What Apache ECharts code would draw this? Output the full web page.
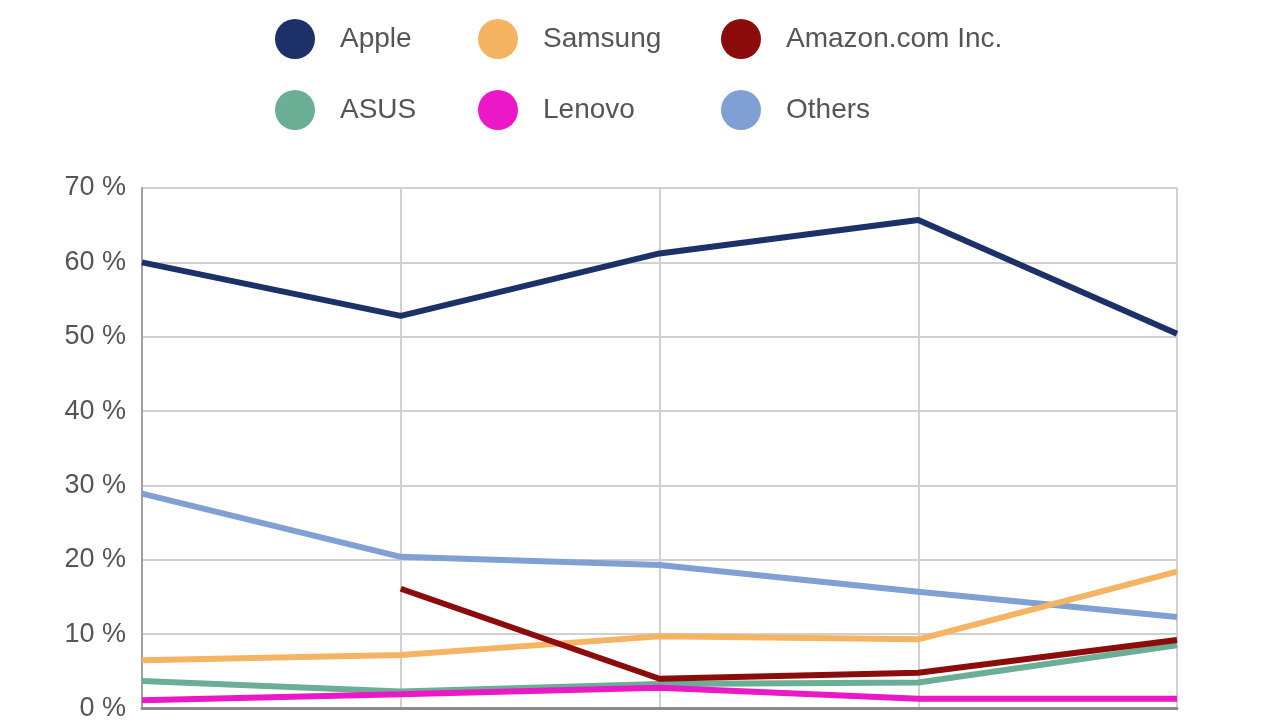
<!DOCTYPE html>
<html>
<head>
    <meta charset="utf-8">
    <title>tablet share</title>
    <script src="https://cdn.jsdelivr.net/npm/echarts@6/dist/echarts.min.js"></script>
    <style>
        html, body { margin: 0; padding: 0; background: #fff; overflow: hidden; }
        #main { width: 1280px; height: 722px; }
    </style>
</head>
<body>
<div id="main"></div>
<script>
    // x labels are cut off in the picture, so names are a guess and hidden
    var quarters = ['Q3 2011', 'Q4 2011', 'Q1 2012', 'Q2 2012', 'Q3 2012'];
    var yTicks = [0, 10, 20, 30, 40, 50, 60, 70];

    var apple   = [60.0, 52.8, 61.2, 65.7, 50.4];
    var samsung = [6.5, 7.2, 9.7, 9.3, 18.4];
    var amazon  = [null, 16.1, 4.0, 4.8, 9.2];
    var asus    = [3.7, 2.3, 3.3, 3.5, 8.5];
    var lenovo  = [1.1, 1.9, 2.8, 1.3, 1.3];
    var others  = [28.9, 20.4, 19.3, 15.7, 12.3];

    var colors = {
        Apple: '#1b3168',
        Samsung: '#f5b462',
        'Amazon.com Inc.': '#8c0c0c',
        ASUS: '#6aae96',
        Lenovo: '#ec17c6',
        Others: '#80a0d4'
    };

    var myChart = echarts.init(document.getElementById('main'));

    function legendCol(left, names) {
        return {
            orient: 'vertical',
            left: left,
            top: 14,
            icon: 'circle',
            itemWidth: 40,
            itemHeight: 40,
            itemGap: 31,
            selectedMode: false,
            data: names,
            textStyle: {
                fontFamily: 'Liberation Sans, Arial, sans-serif',
                fontSize: 28,
                color: '#555',
                padding: [4, 0, 0, 20]
            }
        };
    }

    function line(name, data, z) {
        return {
            name: name,
            type: 'line',
            data: data,
            z: z,
            showSymbol: false,
            symbol: 'none',
            connectNulls: false,
            color: colors[name],
            lineStyle: { width: 6, color: colors[name] }
        };
    }

    var option = {
        animation: false,
        legend: [
            legendCol(270, ['Apple', 'ASUS']),
            legendCol(473, ['Samsung', 'Lenovo']),
            legendCol(716, ['Amazon.com Inc.', 'Others'])
        ],
        grid: { left: 142, width: 1035, top: 188, height: 525 },
        xAxis: {
            type: 'category',
            boundaryGap: false,
            data: quarters,
            axisLabel: { show: false },
            axisTick: { show: false },
            axisLine: { lineStyle: { color: '#8a8a8a', width: 3 } },
            splitLine: { show: true, lineStyle: { color: '#d0d0d0', width: 2 } }
        },
        yAxis: {
            type: 'value',
            min: yTicks[0],
            max: yTicks[yTicks.length - 1],
            interval: 10,
            axisLine: { show: true, lineStyle: { color: '#a0a0a0', width: 2 } },
            axisTick: { show: false },
            axisLabel: {
                margin: 16,
                fontFamily: 'Liberation Sans, Arial, sans-serif',
                fontSize: 27,
                color: '#555',
                formatter: '{value} %'
            },
            splitLine: { lineStyle: { color: '#d0d0d0', width: 2 } }
        },
        series: [
            line('Others', others, 2),
            line('Samsung', samsung, 3),
            line('ASUS', asus, 4),
            line('Lenovo', lenovo, 5),
            line('Amazon.com Inc.', amazon, 6),
            line('Apple', apple, 7)
        ]
    };

    myChart.setOption(option);
</script>
</body>
</html>
